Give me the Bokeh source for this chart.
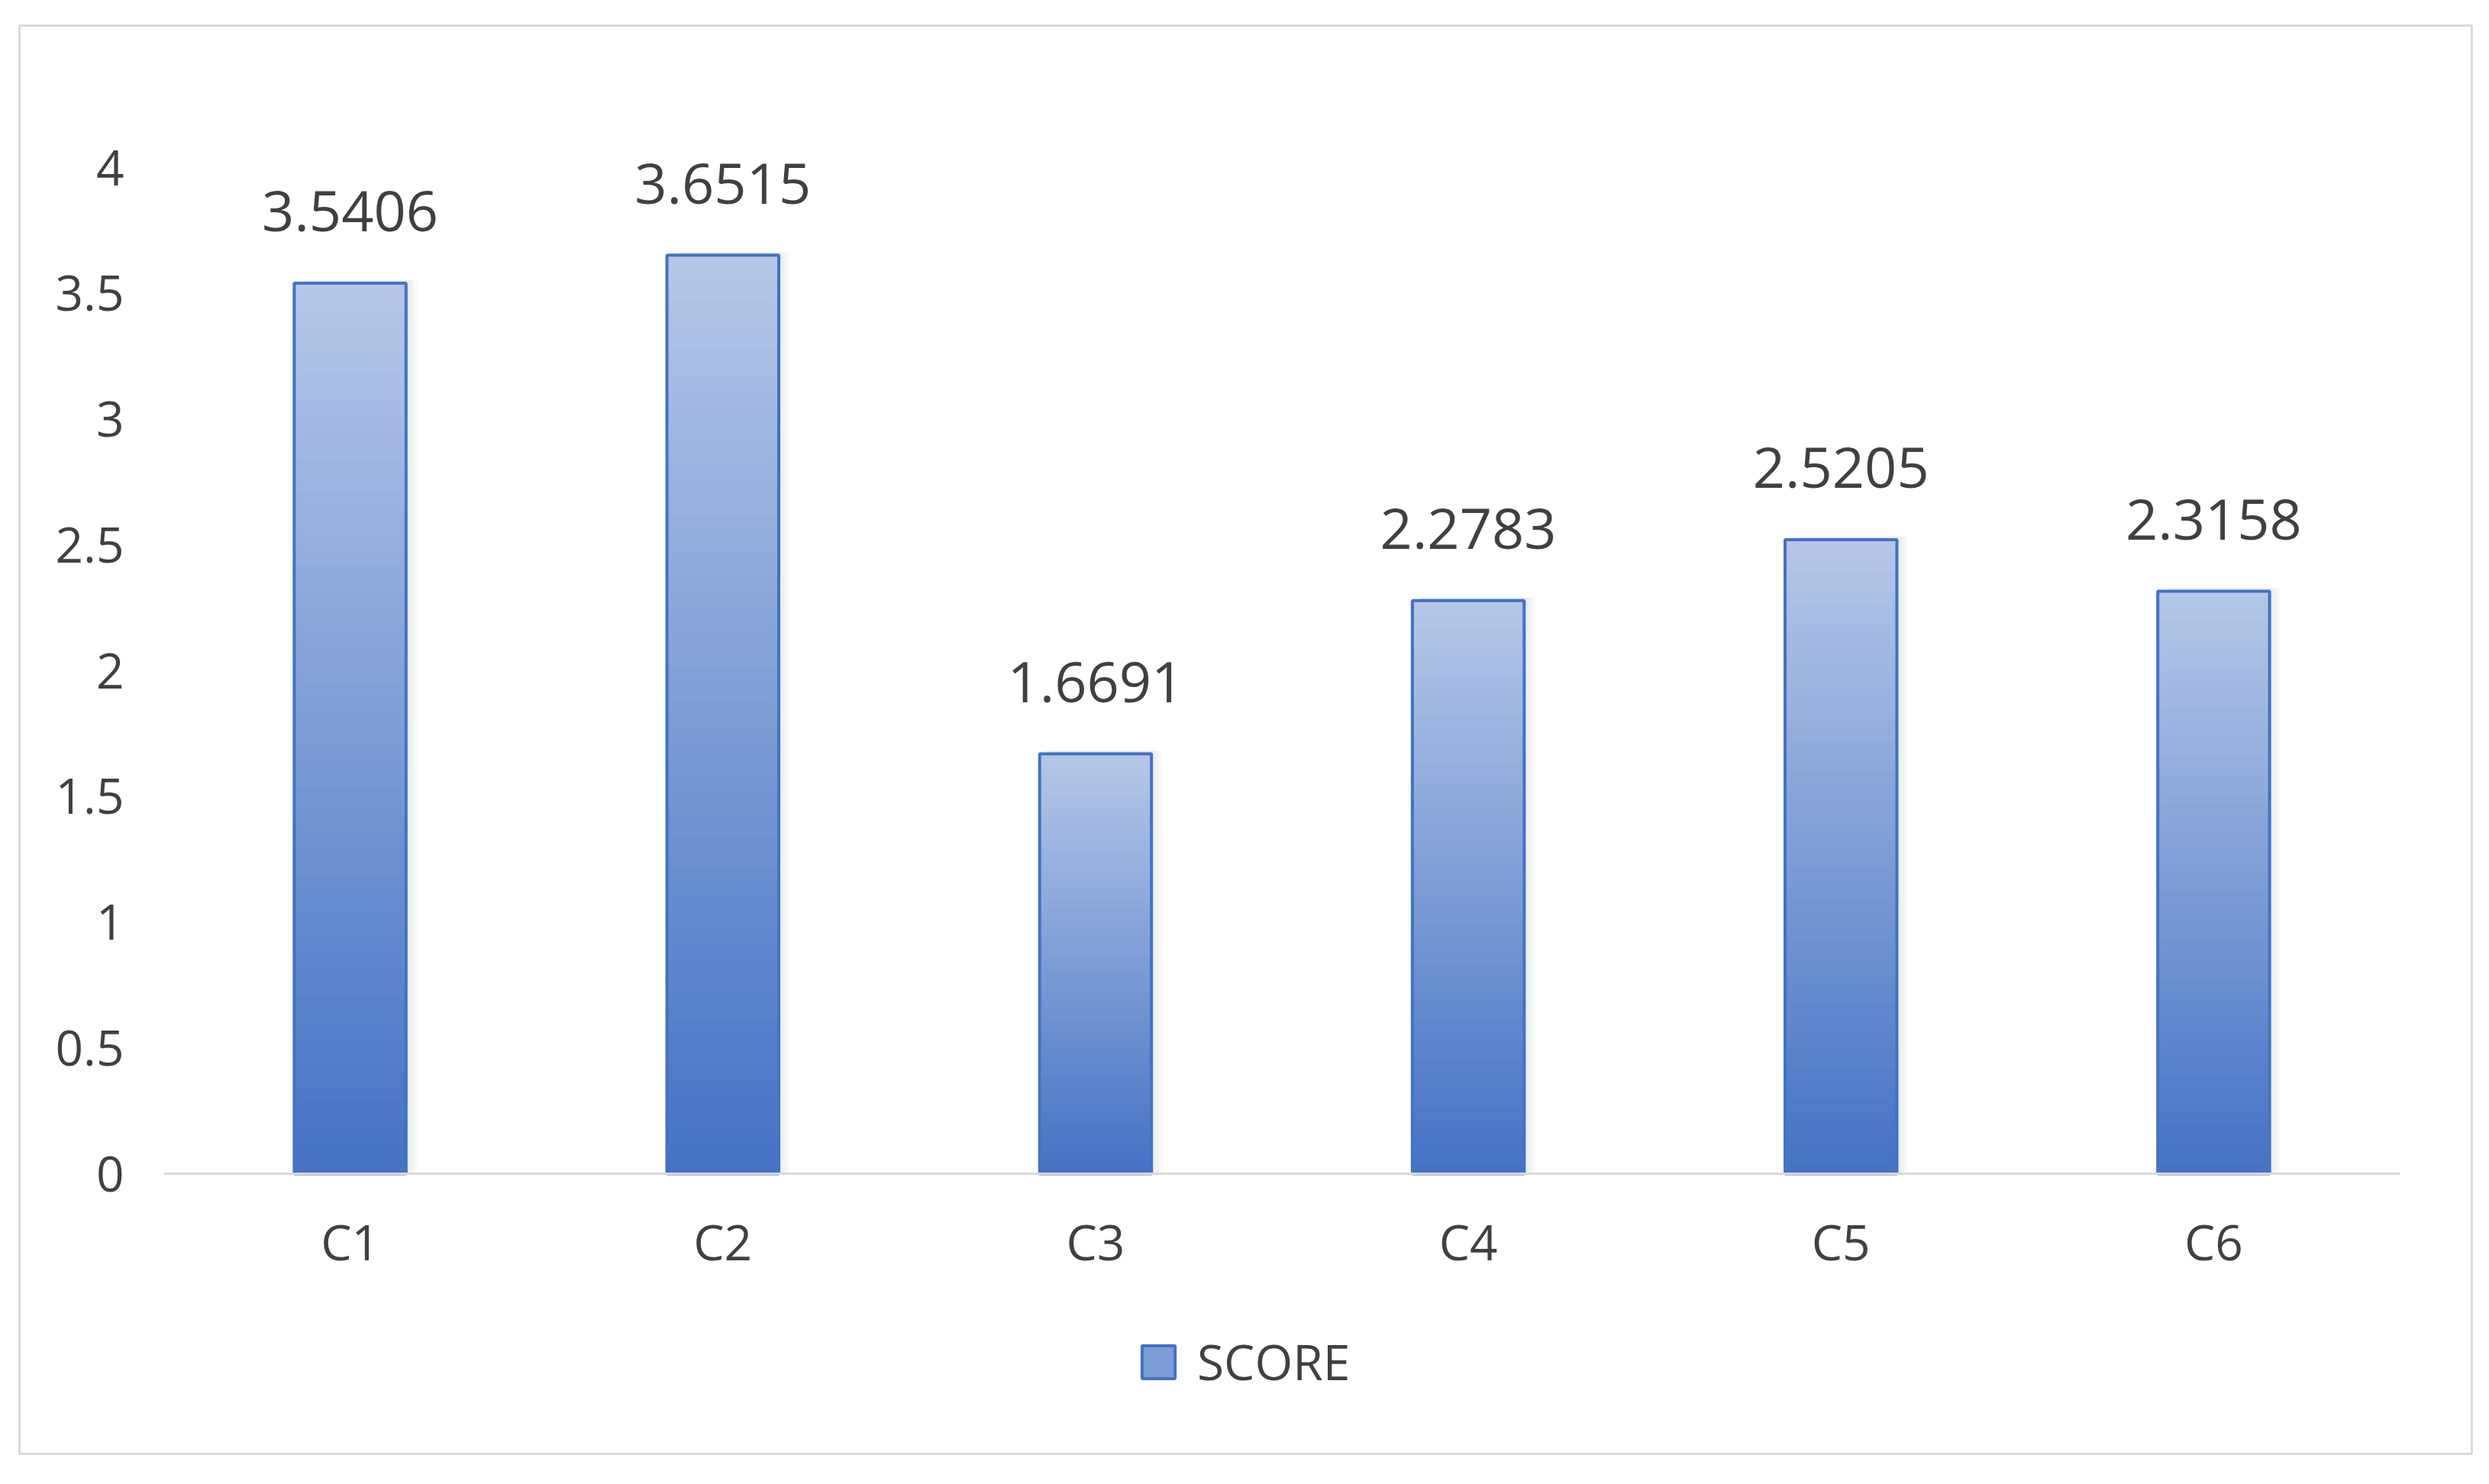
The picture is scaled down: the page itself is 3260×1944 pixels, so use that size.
from bokeh.plotting import figure
from bokeh.models import (ColumnDataSource, Range1d, FixedTicker, Legend, LegendItem)
from bokeh.core.properties import value
from bokeh.embed import file_html
from bokeh.resources import INLINE

# ---- data ----
categories = ["C1", "C2", "C3", "C4", "C5", "C6"]
scores = [3.5406, 3.6515, 1.6691, 2.2783, 2.5205, 2.3158]
score_labels = ["3.5406", "3.6515", "1.6691", "2.2783", "2.5205", "2.3158"]
y_ticks = [0, 0.5, 1, 1.5, 2, 2.5, 3, 3.5, 4]
y_tick_labels = ["0", "0.5", "1", "1.5", "2", "2.5", "3", "3.5", "4"]
series_name = "SCORE"

FONT = "Open Sans"
TEXT = "#404040"
BOTTOM = (68, 114, 196)
TOPC = (182, 199, 232)

n = len(categories)
xs = list(range(n))

W, H = 3244, 1928
p = figure(width=W, height=H,
           x_range=Range1d(-0.8872, n - 0.5 + 0.1926),
           y_range=Range1d(-1.1138, 4.5645),
           output_backend="svg", toolbar_location=None,
           min_border_left=25, min_border_right=7, min_border_top=33,
           min_border_bottom=24)
p.outline_line_color = "#d9d9d9"
p.outline_line_width = 3
p.xgrid.visible = False
p.ygrid.visible = False
p.background_fill_color = "white"
p.border_fill_color = "white"

BW = 0.30

# soft shadow to the right of bars
for k in range(1, 6):
    sh = ColumnDataSource(dict(x=[v + 0.006 * k for v in xs], top=[s + 0.012 for s in scores]))
    p.vbar(x="x", top="top", bottom=0, width=BW, source=sh,
           fill_color="#7f8799", fill_alpha=0.035, line_color=None)

# gradient bars: overlapping strips, tallest first
N = 60
strips = []
for k in range(N, 0, -1):
    f = k / N
    t = (k - 0.5) / N
    col = "#%02x%02x%02x" % tuple(int(round(BOTTOM[i] + (TOPC[i] - BOTTOM[i]) * t)) for i in range(3))
    src = ColumnDataSource(dict(x=xs, top=[s * f for s in scores]))
    strips.append(p.vbar(x="x", top="top", bottom=0, width=BW, source=src,
                         fill_color=col, line_color=None))

main = ColumnDataSource(dict(x=xs, top=scores, lab=score_labels))
outline = p.vbar(x="x", top="top", bottom=0, width=BW, source=main,
                 fill_color=None, line_color="#4472c4", line_width=4)

p.text(x="x", y="top", text="lab", source=main, text_font=value(FONT),
       text_font_size="74px", text_color=TEXT, text_align="center",
       text_baseline="alphabetic", y_offset=-94)

# category axis baseline
p.segment(x0=[-0.5], y0=[0], x1=[n - 0.5], y1=[0], line_color="#d9d9d9", line_width=3)

legend = Legend(items=[LegendItem(label=series_name,
                                  renderers=[strips[N // 2], outline], index=0)],
                location=(1465, 77), orientation="horizontal",
                glyph_width=54, glyph_height=54, label_standoff=24,
                label_text_font=FONT, label_text_font_size="64px",
                label_text_color=TEXT, padding=0, margin=0, spacing=0,
                border_line_color=None, background_fill_alpha=0)
p.add_layout(legend, "center")

# axes
yax = p.yaxis[0]
yax.fixed_location = -0.5
yax.ticker = FixedTicker(ticks=y_ticks)
yax.major_label_overrides = {t: l for t, l in zip(y_ticks, y_tick_labels)}
yax.axis_line_color = None
yax.major_tick_line_color = None
yax.minor_tick_line_color = None
yax.major_label_text_font = FONT
yax.major_label_text_font_size = "64px"
yax.major_label_text_color = TEXT
yax.major_label_standoff = 46

xax = p.xaxis[0]
xax.fixed_location = 0
xax.ticker = FixedTicker(ticks=xs)
xax.major_label_overrides = {i: c for i, c in zip(xs, categories)}
xax.axis_line_color = None
xax.major_tick_line_color = None
xax.minor_tick_line_color = None
xax.major_label_text_font = FONT
xax.major_label_text_font_size = "64px"
xax.major_label_text_color = TEXT
xax.major_label_standoff = 39

open("out.html", "w").write(file_html(p, INLINE))
